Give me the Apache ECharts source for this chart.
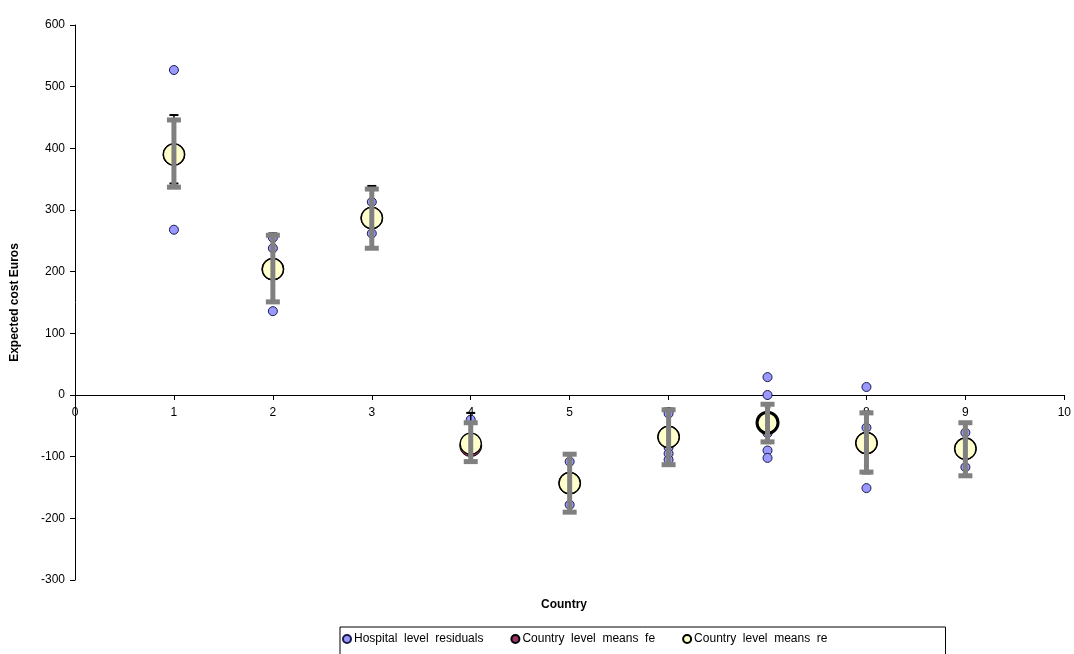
<!DOCTYPE html>
<html>
<head>
<meta charset="utf-8">
<script src="https://cdn.jsdelivr.net/npm/echarts@6/dist/echarts.min.js"></script>
<style>
  html, body { margin: 0; padding: 0; background: #fff; }
  #chart { width: 1074px; height: 654px; }
</style>
</head>
<body>
<div id="chart"></div>
<script>
// Countries on the x axis
const countries = [1, 2, 3, 4, 5, 6, 7, 8, 9];

// Country level means, random effects model, with interval bounds
const reMean = [390, 204, 287, -79, -143, -68, -45, -78, -87];
const reLow  = [337, 151, 238, -108, -190, -113, -76, -125, -131];
const reHigh = [446, 259, 334, -45, -96, -24, -15, -29, -45];

// Country level means, fixed effects model, with interval bounds
const feMean = [390, 204, 287, -82, -143, -68, -45, -78, -87];
const feLow  = [343, 150, 237, -110, -191, -114, -78, -127, -132];
const feHigh = [454, 262, 339, -29, -95, -22, -13, -27, -44];

// Hospital level residuals, per country
const residualCountry = [1, 1, 2, 2, 2, 3, 3, 4, 5, 5, 6, 6, 6, 6, 7, 7, 7, 7, 7, 8, 8, 8, 9, 9];
const residualValue   = [527, 268, 255, 238, 136, 313, 262, -40, -108, -178, -30, -85, -95, -105, 29, 0, -62, -90, -102, 13, -53, -151, -61, -117];

// Axis ticks
const xTicks = { min: 0, max: 10, step: 1 };
const yTicks = { min: -300, max: 600, step: 100 };

const FONT = 'Liberation Sans, Arial, sans-serif';
const GRID = { left: 75, right: 8, top: 25, bottom: 74 };
const PLOT_H = 654 - GRID.top - GRID.bottom;
// the country axis sits on the zero line, so shift it up from the plot bottom
const zeroOffset = -PLOT_H * (0 - yTicks.min) / (yTicks.max - yTicks.min);

// country whose re marker carries a heavier outline
const heavyOutlineCountry = 7;

const residualData = residualCountry.map((c, i) => [c, residualValue[i]]);
const feData = countries.map((c, i) => [c, feMean[i]]);
const reData = countries.map((c, i) => {
  const item = { value: [c, reMean[i]] };
  if (c === heavyOutlineCountry) item.itemStyle = { borderWidth: 3 };
  return item;
});
const feBars = countries.map((c, i) => [c, feLow[i], feHigh[i]]);
const reBars = countries.map((c, i) => [c, reLow[i], reHigh[i]]);

// Vertical interval bar with flat caps at both ends
function errorBar(color, lineWidth, capW, capH) {
  return function (params, api) {
    const x = api.value(0);
    const lo = api.coord([x, api.value(1)]);
    const hi = api.coord([x, api.value(2)]);
    const cap = p => ({
      type: 'rect',
      shape: { x: p[0] - capW / 2, y: p[1] - capH / 2, width: capW, height: capH },
      style: { fill: color }
    });
    return {
      type: 'group',
      children: [
        { type: 'line', shape: { x1: lo[0], y1: lo[1], x2: hi[0], y2: hi[1] },
          style: { stroke: color, lineWidth: lineWidth } },
        cap(lo), cap(hi)
      ]
    };
  };
}

const chart = echarts.init(document.getElementById('chart'), null, { renderer: 'canvas' });

chart.setOption({
  backgroundColor: '#ffffff',
  animation: false,
  textStyle: { fontFamily: FONT },
  grid: Object.assign({ containLabel: false }, GRID),
  xAxis: {
    type: 'value',
    min: xTicks.min, max: xTicks.max, interval: xTicks.step,
    position: 'bottom',
    offset: zeroOffset,
    z: 1,
    axisLine: { onZero: false, lineStyle: { color: '#000', width: 1 } },
    axisTick: { show: true, inside: false, length: 5, lineStyle: { color: '#000' } },
    axisLabel: { color: '#000', fontSize: 12, fontFamily: FONT, margin: 12 },
    splitLine: { show: false }
  },
  yAxis: {
    type: 'value',
    min: yTicks.min, max: yTicks.max, interval: yTicks.step,
    name: 'Expected cost Euros',
    nameLocation: 'middle',
    nameGap: 54,
    nameTextStyle: { color: '#000', fontSize: 12, fontWeight: 'bold', fontFamily: FONT },
    axisLine: { show: true, onZero: false, lineStyle: { color: '#000', width: 1 } },
    axisTick: { show: true, inside: false, length: 5, lineStyle: { color: '#000' } },
    axisLabel: { color: '#000', fontSize: 12, fontFamily: FONT, margin: 10 },
    splitLine: { show: false }
  },
  graphic: [
    { type: 'text', left: 541, top: 599,
      style: { text: 'Country', font: 'bold 12px ' + FONT, fill: '#000' } }
  ],
  legend: {
    left: 340, top: 627,
    padding: [6, 118, 20, 2],
    borderColor: '#000', borderWidth: 1,
    itemWidth: 8, itemHeight: 8, itemGap: 27,
    textStyle: { color: '#000', fontSize: 12, fontFamily: FONT, padding: [0, 0, 0, -2] },
    data: [
      { name: 'Hospital  level  residuals', icon: 'circle' },
      { name: 'Country  level  means  fe', icon: 'circle' },
      { name: 'Country  level  means  re', icon: 'circle' }
    ]
  },
  series: [
    {
      name: 'Hospital  level  residuals', type: 'scatter', z: 2,
      symbol: 'circle', symbolSize: 9,
      itemStyle: { color: '#9999FF', borderColor: '#1a1a4d', borderWidth: 1, opacity: 1 },
      data: residualData
    },
    {
      name: 'Country  level  means  fe', type: 'scatter', z: 3,
      symbol: 'circle', symbolSize: 22,
      itemStyle: { color: '#993366', borderColor: '#000', borderWidth: 1, opacity: 1 },
      data: feData
    },
    {
      name: 'Country  level  means  re', type: 'scatter', z: 4,
      symbol: 'circle', symbolSize: 21,
      itemStyle: { color: '#FFFFCC', borderColor: '#000', borderWidth: 1.2, opacity: 1 },
      data: reData
    },
    {
      name: 'fe interval', type: 'custom', z: 5,
      renderItem: errorBar('#000000', 1.5, 9, 2),
      data: feBars, silent: true
    },
    {
      name: 're interval', type: 'custom', z: 6,
      renderItem: errorBar('#808080', 5, 14, 5),
      data: reBars, silent: true
    }
  ]
});
</script>
</body>
</html>
